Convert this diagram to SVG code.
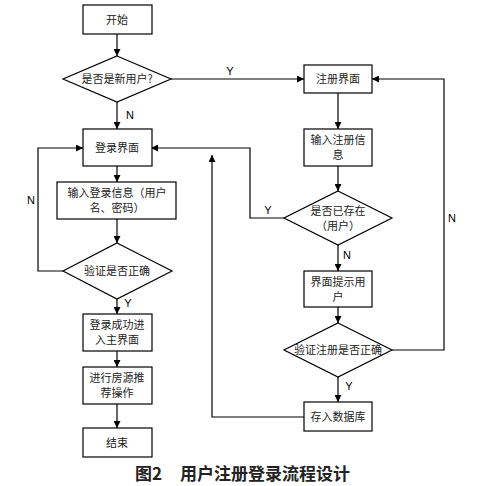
<svg xmlns="http://www.w3.org/2000/svg" width="477" height="486" viewBox="0 0 477 486">
<style>
.n{fill:#fff;stroke:#000;stroke-width:1.2}
.t{font-family:"Noto Sans CJK SC","Liberation Sans",sans-serif;font-size:11px;fill:#222;text-anchor:middle}
.l{font-family:"Liberation Sans",sans-serif;font-size:11px;fill:#000;text-anchor:middle}
.c{fill:none;stroke:#000;stroke-width:1.2}
.cap{font-family:"Noto Sans CJK SC","Liberation Serif",sans-serif;font-size:17px;font-weight:bold;fill:#222}
</style>
<defs>
<marker id="a" viewBox="0 0 10 10" refX="10" refY="5" markerWidth="7" markerHeight="7" markerUnits="userSpaceOnUse" orient="auto"><path d="M0,0L10,5L0,10z" fill="#000"/></marker>
</defs>
<rect width="477" height="486" fill="#fff"/>
<g id="connectors">
<path class="c" d="M117,34V56" marker-end="url(#a)"/>
<path class="c" d="M171,79H304" marker-end="url(#a)"/>
<path class="c" d="M117,102V129" marker-end="url(#a)"/>
<path class="c" d="M117,166V182" marker-end="url(#a)"/>
<path class="c" d="M117,219V243" marker-end="url(#a)"/>
<path class="c" d="M63,271H38V148H83" marker-end="url(#a)"/>
<path class="c" d="M117,299V314" marker-end="url(#a)"/>
<path class="c" d="M117,351V367" marker-end="url(#a)"/>
<path class="c" d="M117,404V428" marker-end="url(#a)"/>
<path class="c" d="M338,93V129" marker-end="url(#a)"/>
<path class="c" d="M338,166V191" marker-end="url(#a)"/>
<path class="c" d="M284,218H250V148H151" marker-end="url(#a)"/>
<path class="c" d="M338,245V271" marker-end="url(#a)"/>
<path class="c" d="M338,307V323" marker-end="url(#a)"/>
<path class="c" d="M392,350H444V79H372" marker-end="url(#a)"/>
<path class="c" d="M338,377V402" marker-end="url(#a)"/>
<path class="c" d="M304,417H212V155" marker-end="url(#a)"/>
<text class="l" x="230" y="75">Y</text>
<text class="l" x="130" y="119">N</text>
<text class="l" x="31" y="204">N</text>
<text class="l" x="128" y="307">Y</text>
<text class="l" x="268" y="214">Y</text>
<text class="l" x="347" y="259">N</text>
<text class="l" x="452" y="222">N</text>
<text class="l" x="349" y="390">Y</text>
</g>
<g id="start"><rect class="n" x="83" y="5" width="69" height="29"/><text class="t" x="117" y="24">开始</text></g>
<g id="isNew"><polygon class="n" points="117,56 171,79 117,102 63,79"/><text class="t" x="117" y="83">是否是新用户?</text></g>
<g id="login"><rect class="n" x="83" y="129" width="69" height="37"/><text class="t" x="117" y="152">登录界面</text></g>
<g id="inputLogin"><rect class="n" x="57" y="182" width="119" height="37"/><text class="t" x="117" y="197">输入登录信息（用户</text><text class="t" x="117" y="212">名、密码）</text></g>
<g id="verifyLogin"><polygon class="n" points="117,243 172,271 117,299 63,271"/><text class="t" x="117" y="275">验证是否正确</text></g>
<g id="success"><rect class="n" x="83" y="314" width="69" height="37"/><text class="t" x="117" y="329">登录成功进</text><text class="t" x="117" y="344">入主界面</text></g>
<g id="recommend"><rect class="n" x="83" y="367" width="69" height="37"/><text class="t" x="117" y="382">进行房源推</text><text class="t" x="117" y="397">荐操作</text></g>
<g id="end"><rect class="n" x="83" y="428" width="69" height="29"/><text class="t" x="117" y="447">结束</text></g>
<g id="register"><rect class="n" x="304" y="65" width="68" height="28"/><text class="t" x="338" y="83">注册界面</text></g>
<g id="inputReg"><rect class="n" x="304" y="129" width="68" height="37"/><text class="t" x="338" y="144">输入注册信</text><text class="t" x="338" y="159">息</text></g>
<g id="exists"><polygon class="n" points="338,191 392,218 338,245 284,218"/><text class="t" x="338" y="215">是否已存在</text><text class="t" x="338" y="230">（用户）</text></g>
<g id="prompt"><rect class="n" x="304" y="271" width="68" height="36"/><text class="t" x="338" y="286">界面提示用</text><text class="t" x="338" y="301">户</text></g>
<g id="verifyReg"><polygon class="n" points="338,323 392,350 338,377 284,350"/><text class="t" x="338" y="354">验证注册是否正确</text></g>
<g id="save"><rect class="n" x="304" y="402" width="68" height="29"/><text class="t" x="338" y="421">存入数据库</text></g>
<text class="cap" x="135" y="480">图2</text>
<text class="cap" x="180" y="480">用户注册登录流程设计</text>
</svg>
